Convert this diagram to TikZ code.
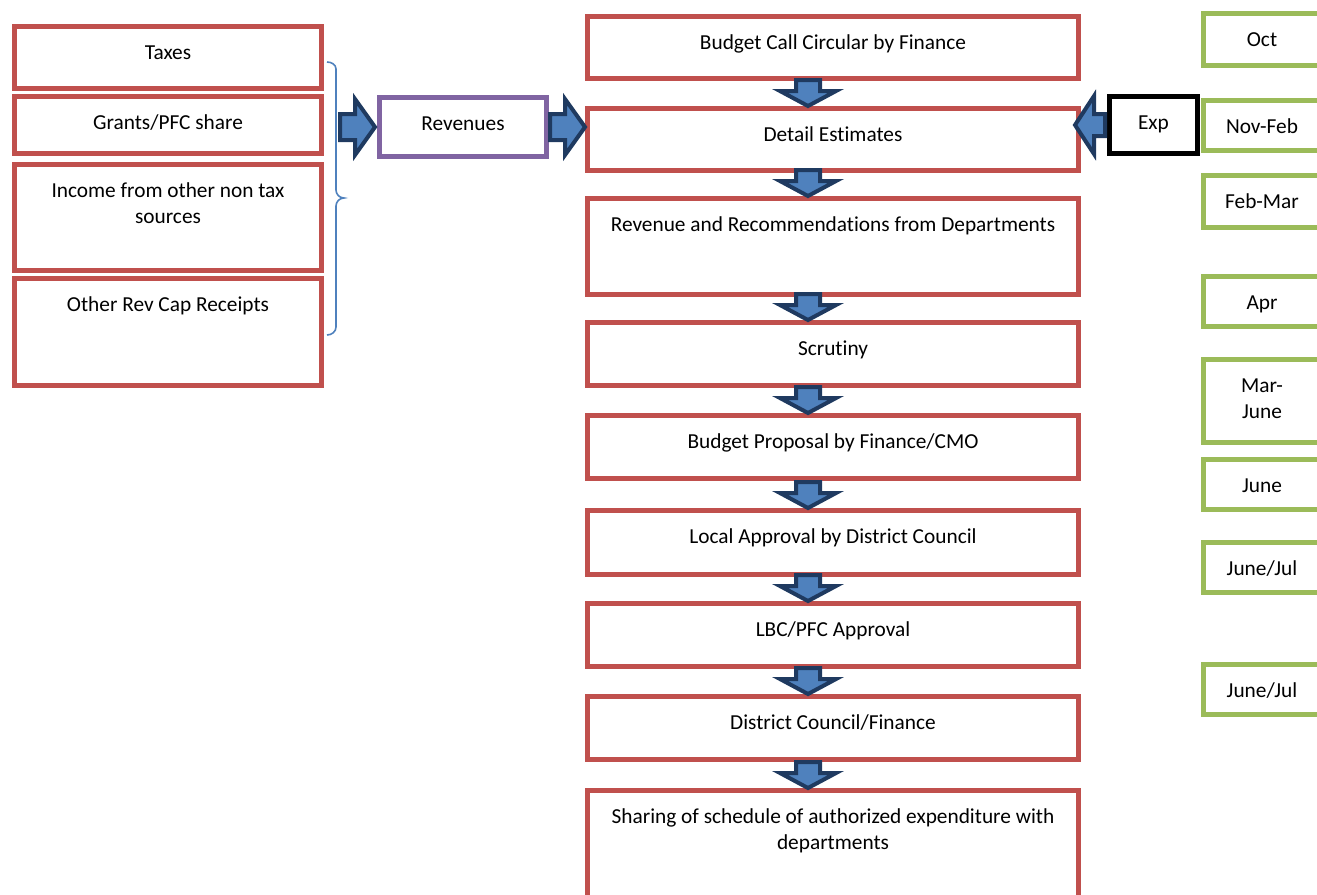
\documentclass[tikz,border=0pt]{standalone}
\usepackage{fontspec}
\setmainfont{Carlito}[Ligatures=NoCommon]
\usetikzlibrary{positioning}

\definecolor{boxred}{HTML}{C0504D}
\definecolor{boxgreen}{HTML}{9BBB59}
\definecolor{boxpurple}{HTML}{8064A2}
\definecolor{arrowdark}{HTML}{1F3A60}
\definecolor{arrowblue}{HTML}{4F81BD}

\tikzset{
	box/.style={draw, line width=3.75pt, fill=white, inner sep=0pt, anchor=north west},
	dims/.style 2 args={minimum width=#1*0.75pt-3.75pt, minimum height=#2*0.75pt-3.75pt},
	redbox/.style={box, draw=boxred},
	greenbox/.style={box, draw=boxgreen},
	purplebox/.style={box, draw=boxpurple},
	blackbox/.style={box, draw=black},
	lbl/.style={font=\fontsize{16}{19.5}\selectfont, align=center, anchor=base, yshift=-26.6pt, inner sep=0pt},
	lbltwo/.style={lbl, yshift=-19.5pt},
	arrowline/.style={draw=arrowdark, fill=arrowblue, line width=3pt, line join=miter},
	pics/blockarrow/.style n args={4}{code={
		\path[arrowline] (0,0) -- (-#2,#3) -- (-#2,#4) -- (-#1,#4) -- (-#1,-#4) -- (-#2,-#4) -- (-#2,-#3) -- cycle;
	}},
}

\begin{document}
\begin{tikzpicture}[x=0.75pt,y=-0.75pt]
	\useasboundingbox (0,0) rectangle (1317,894);
	% sources
	\node[redbox, dims={312}{67}] (taxes) at (12,24) {};
	\node[redbox, dims={312}{62}] (grants) at (12,94) {};
	\node[redbox, dims={312}{111}] (nontax) at (12,162) {};
	\node[redbox, dims={312}{112}] (capital) at (12,276) {};
	\node[lbl] (taxestxt) at (taxes.north) {Taxes};
	\node[lbl] (grantstxt) at (grants.north) {Grants/PFC share};
	\node[lbltwo] (nontaxtxt) at (nontax.north) {Income from other non tax\\sources};
	\node[lbl] (capitaltxt) at (capital.north) {Other Rev Cap Receipts};
	\draw[arrowblue, line width=1.2pt] (327,62) to[out=0,in=90] (336,69) -- (336,190)
	to[out=-90,in=180] (344,198) to[out=180,in=90] (336,206) -- (336,327)
	to[out=-90,in=0] (327,335);

	\node[purplebox, dims={172}{64}] (revenues) at (377,95) {};
	\node[lbl] (revenuestxt) at (revenues.north) {Revenues};

	% main flow
	\node[redbox, dims={496}{67}] (circular) at (585,14) {};
	\node[redbox, dims={496}{67}] (detail) at (585,106) {};
	\node[redbox, dims={496}{101}] (deptrev) at (585,196) {};
	\node[redbox, dims={496}{68}] (scrutiny) at (585,320) {};
	\node[redbox, dims={496}{68}] (proposal) at (585,413) {};
	\node[redbox, dims={496}{69}] (local) at (585,508) {};
	\node[redbox, dims={496}{68}] (lbcpfc) at (585,601) {};
	\node[redbox, dims={496}{68}] (council) at (585,694) {};
	\node[redbox, dims={496}{130}] (sharing) at (585,788) {};
	\node[lbl] (circulartxt) at (circular.north) {Budget Call Circular by Finance};
	\node[lbl] (detailtxt) at (detail.north) {Detail Estimates};
	\node[lbl] (deptrevtxt) at (deptrev.north) {Revenue and Recommendations from Departments};
	\node[lbl] (scrutinytxt) at (scrutiny.north) {Scrutiny};
	\node[lbl] (proposaltxt) at (proposal.north) {Budget Proposal by Finance/CMO};
	\node[lbl] (localtxt) at (local.north) {Local Approval by District Council};
	\node[lbl] (lbcpfctxt) at (lbcpfc.north) {LBC/PFC Approval};
	\node[lbl] (counciltxt) at (council.north) {District Council/Finance};
	\node[lbltwo] (sharingtxt) at (sharing.north) {Sharing of schedule of authorized expenditure with\\departments};

	\coordinate (axis) at (808,0);
	\foreach \b in {detail,deptrev,scrutiny,proposal,local,lbcpfc,council,sharing}
		\pic[rotate=-90] at (axis |- \b.north) {blockarrow={26}{15}{28}{12}};

	\node[blackbox, dims={93}{62}] (exp) at (1107,94) {};
	\node[lbl] (exptxt) at (exp.north) {Exp};
	\coordinate (exptip) at ([xshift=-4.5pt]detail.east);

	\pic at ([xshift=-1.5pt]revenues.west) {blockarrow={35}{20}{28}{13}};
	\pic at (detail.west |- revenues.east) {blockarrow={35}{20}{28}{13}};
	\pic[rotate=180] at (exptip |- exp.west) {blockarrow={30}{19}{29}{11}};

	% months
	\node[greenbox, dims={122}{57}] (oct) at (1201,11) {};
	\node[greenbox, dims={122}{55}] (novfeb) at (1201,98) {};
	\node[greenbox, dims={122}{57}] (febmar) at (1201,173) {};
	\node[greenbox, dims={122}{55}] (apr) at (1201,274) {};
	\node[greenbox, dims={122}{88}] (marjune) at (1201,357) {};
	\node[greenbox, dims={122}{55}] (june) at (1201,457) {};
	\node[greenbox, dims={122}{55}] (junejul) at (1201,540) {};
	\node[greenbox, dims={122}{55}] (junejulb) at (1201,662) {};
	\node[lbl] (octtxt) at (oct.north) {Oct};
	\node[lbl] (novfebtxt) at (novfeb.north) {Nov-Feb};
	\node[lbl] (febmartxt) at (febmar.north) {Feb-Mar};
	\node[lbl] (aprtxt) at (apr.north) {Apr};
	\node[lbltwo] (marjunetxt) at (marjune.north) {Mar-\\June};
	\node[lbl] (junetxt) at (june.north) {June};
	\node[lbl] (junejultxt) at (junejul.north) {June/Jul};
	\node[lbl] (junejulbtxt) at (junejulb.north) {June/Jul};
\end{tikzpicture}
\end{document}
